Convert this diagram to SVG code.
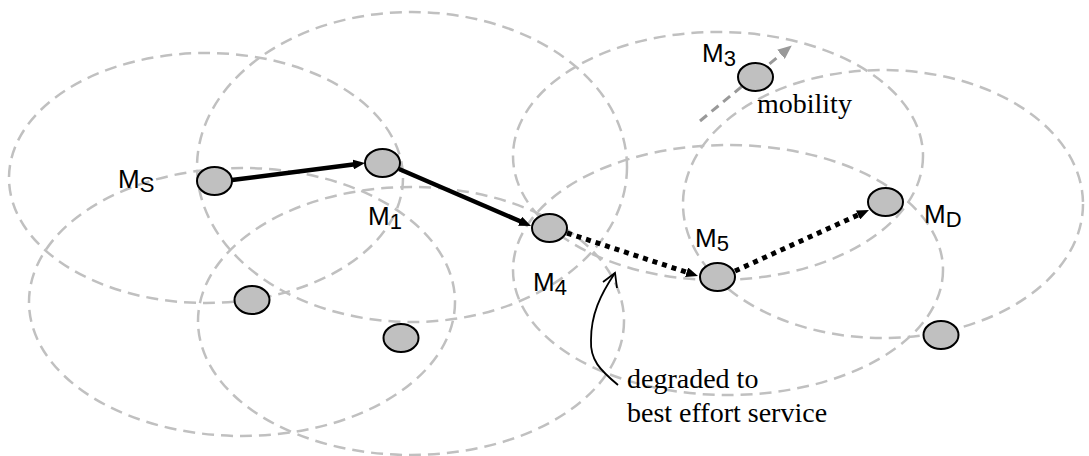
<svg xmlns="http://www.w3.org/2000/svg" width="1089" height="456" viewBox="0 0 1089 456">
<style>
.cov{fill:none;stroke:#c0c0c0;stroke-width:2.5;stroke-dasharray:12 7}
.node{fill:#c0c0c0;stroke:#000;stroke-width:2}
.lbl{font-family:"Liberation Sans",Arial,sans-serif;font-size:26px;fill:#000}
.sub{font-size:22px}
.note{font-family:"Liberation Serif","Times New Roman",serif;font-size:28px;fill:#000}
.solid{stroke:#000;stroke-width:4.5;fill:none;marker-end:url(#ah)}
.dot{stroke:#000;stroke-width:5;stroke-dasharray:5 5;fill:none;marker-end:url(#ah)}
</style>
<defs>
<marker id="ah" viewBox="0 0 12 10" refX="4" refY="5" markerWidth="12" markerHeight="10" markerUnits="userSpaceOnUse" orient="auto">
<path d="M0,0 L12,5 L0,10 z" fill="#000"/>
</marker>
<marker id="ahg" viewBox="0 0 14 12" refX="6" refY="6" markerWidth="14" markerHeight="12" markerUnits="userSpaceOnUse" orient="auto">
<path d="M0,0 L14,6 L0,12 z" fill="#999"/>
</marker>
</defs>
<g id="coverage">
<ellipse class="cov" cx="206" cy="178" rx="197" ry="125"/>
<ellipse class="cov" cx="412" cy="167" rx="215" ry="155"/>
<ellipse class="cov" cx="242" cy="302" rx="213" ry="134"/>
<ellipse class="cov" cx="411" cy="321" rx="213" ry="134"/>
<ellipse class="cov" cx="718" cy="156" rx="205" ry="124"/>
<ellipse class="cov" cx="728" cy="270" rx="215" ry="125"/>
<ellipse class="cov" cx="883" cy="204" rx="200" ry="134"/>
</g>
<g id="connectors">
<line class="solid" x1="232" y1="180" x2="357.1" y2="164"/>
<line class="solid" x1="399" y1="169" x2="523.7" y2="222.8"/>
<line class="dot" x1="567" y1="233" x2="690.4" y2="273.5"/>
<line class="dot" x1="735" y1="271" x2="861.7" y2="213.3"/>
<line x1="700" y1="121" x2="785.6" y2="50.5" stroke="#999" stroke-width="3" stroke-dasharray="9 6" marker-end="url(#ahg)"/>
<path d="M618,385 C600,370 590,360 591,340 C591,315 600,295 615,273" fill="none" stroke="#000" stroke-width="1.8"/>
<path d="M603,282 L615,273 L617,288" fill="none" stroke="#000" stroke-width="1.8"/>
</g>
<g id="node-MS"><ellipse class="node" cx="214.5" cy="181" rx="17.5" ry="14"/><text class="lbl" x="118" y="188">M<tspan class="sub" dy="4">S</tspan></text></g>
<g id="node-M1"><ellipse class="node" cx="382.5" cy="163" rx="17.5" ry="14"/><text class="lbl" x="368" y="225">M<tspan class="sub" dy="4">1</tspan></text></g>
<g id="node-M4"><ellipse class="node" cx="549.5" cy="228" rx="17.5" ry="14"/><text class="lbl" x="533" y="291">M<tspan class="sub" dy="4">4</tspan></text></g>
<g id="node-M5"><ellipse class="node" cx="717.5" cy="277" rx="17.5" ry="14"/><text class="lbl" x="695" y="247">M<tspan class="sub" dy="4">5</tspan></text></g>
<g id="node-MD"><ellipse class="node" cx="885.5" cy="202" rx="17.5" ry="14"/><text class="lbl" x="924" y="223">M<tspan class="sub" dy="4">D</tspan></text></g>
<g id="node-M3"><ellipse class="node" cx="755.5" cy="77" rx="17.5" ry="14"/><text class="lbl" x="702" y="62">M<tspan class="sub" dy="4">3</tspan></text></g>
<g id="node-a"><ellipse class="node" cx="252" cy="300" rx="17.5" ry="14"/></g>
<g id="node-b"><ellipse class="node" cx="401" cy="338" rx="17.5" ry="14"/></g>
<g id="node-c"><ellipse class="node" cx="941" cy="335" rx="17.5" ry="14"/></g>
<g id="notes">
<text class="note" x="757" y="113">mobility</text>
<text class="note" x="627" y="388">degraded to</text>
<text class="note" x="627" y="422">best effort service</text>
</g>
</svg>
